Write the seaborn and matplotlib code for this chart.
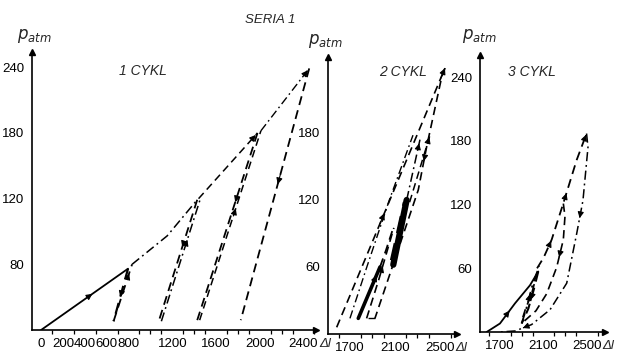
import numpy as np
import pandas as pd
import matplotlib
matplotlib.use("Agg")
import matplotlib.pyplot as plt
import seaborn as sns
from matplotlib.ticker import MultipleLocator

sns.set_style("white")
plt.rcParams["font.family"] = ["Liberation Sans Narrow", "Liberation Sans", "DejaVu Sans"]

# ---------------- data ----------------
# Panel 1 : "1 CYKL"
c1_load_x = [0, 795];                 c1_load_y = [0, 56]
c1_un1_x = [795, 663];                c1_un1_y = [56, 8]
c1_re1_x = [663, 832];                c1_re1_y = [8, 60]
c1_env1_x = [832, 1153, 1428];        c1_env1_y = [60, 86, 119]
c1_un2_x = [1428, 1076];              c1_un2_y = [119, 8]
c1_re2_x = [1100, 1460];              c1_re2_y = [8, 121]
c1_env2_x = [1440, 1979];             c1_env2_y = [120, 180]
c1_un3_x = [1979, 1428];              c1_un3_y = [180, 9]
c1_re3_x = [1450, 2010];              c1_re3_y = [9, 182]
c1_env3_x = [2010, 2452];             c1_env3_y = [182, 239]
c1_un4_x = [2452, 1826];              c1_un4_y = [239, 9]

# Panel 2 : "2 CYKL"
c2_load_x = [1774, 1967];             c2_load_y = [14, 60]
c2_mid_x = [1967, 2020, 2085];        c2_mid_y = [60, 75, 95]
c2_blob_x = [2085, 2204];             c2_blob_y = [62, 120]
c2_blob2_x = [2070, 2185];            c2_blob2_y = [66, 118]
c2_up1_x = [2204, 2322];              c2_up1_y = [120, 174]
c2_up2_x = [2230, 2411];              c2_up2_y = [118, 178]
c2_in_x = [1700, 1850, 2050, 2260];   c2_in_y = [14, 60, 120, 178]
c2_outer_x = [1582, 2544];            c2_outer_y = [6, 238]
c2_unl_x = [2544, 2515, 2382, 2307, 1922]; c2_unl_y = [238, 230, 168, 129, 14]
c2_bot_x = [1922, 1848];              c2_bot_y = [14, 14]
c2_rel_x = [1848, 1960, 2090];        c2_rel_y = [14, 50, 95]

# Panel 3 : "3 CYKL"
c3_load_x = [1578, 1700, 1838, 1975, 2051]; c3_load_y = [0, 8, 27, 44, 57]
c3_lp1_x = [2051, 2010, 1960, 1899];  c3_lp1_y = [57, 40, 22, 8]
c3_lp2_x = [1899, 1950, 2000, 2060];  c3_lp2_y = [8, 25, 45, 62]
c3_lp3_x = [1910, 1935, 1990, 2040];  c3_lp3_y = [14, 22, 36, 55]
c3_env_x = [2040, 2100, 2174, 2280, 2403, 2494]; c3_env_y = [60, 70, 87, 121, 162, 187]
c3_mid_x = [2281, 2296, 2281, 2220, 2128, 2030, 1920]; c3_mid_y = [121, 109, 87, 61, 36, 20, 10]
c3_out_x = [2494, 2507, 2461, 2404, 2312, 2159, 1990, 1840, 1700]
c3_out_y = [187, 174, 124, 93, 46, 21, 7, 1, 0]

p1_xticks = [0, 200, 400, 600, 800, 1200, 1600, 2000, 2400]
p1_yticks = [60, 120, 180, 240]
p1_ylabels = ["80", "120", "180", "240"]
p2_xticks = [1700, 2100, 2500]
p2_yticks = [60, 120, 180]
p3_xticks = [1700, 2100, 2500]
p3_yticks = [60, 120, 180, 240]

# ---------------- figure ----------------
W, H = 628, 355
fig = plt.figure(figsize=(W / 100, H / 100), dpi=100)


def fax(left, bottom_px, right, top_px):
    return fig.add_axes([left / W, 1 - bottom_px / H, (right - left) / W, (bottom_px - top_px) / H])


ax1 = fax(32, 330, 316, 52)
ax2 = fax(328, 334, 457, 57)
ax3 = fax(480, 332, 605, 55)
ax1.set_xlim(-83, 2514); ax1.set_ylim(0, 254)
ax2.set_xlim(1505, 2651); ax2.set_ylim(0, 248)
ax3.set_xlim(1517, 2663); ax3.set_ylim(0, 261)

DASH = (0, (5, 3))
DDOT = (0, (6, 2.5, 1.2, 2.5))
SOLID = "-"


def draw(ax, xs, ys, ls, lw=1.3):
    df = pd.DataFrame({"x": xs, "y": ys})
    sns.lineplot(data=df, x="x", y="y", ax=ax, sort=False, estimator=None,
                 color="black", linestyle=ls, linewidth=lw, legend=False)


def arrow(ax, xs, ys, seg, t=0.5):
    x0, y0, x1, y1 = xs[seg], ys[seg], xs[seg + 1], ys[seg + 1]
    px, py = x0 + t * (x1 - x0), y0 + t * (y1 - y0)
    dx, dy = (x1 - x0) * 0.04, (y1 - y0) * 0.04
    ax.annotate("", xy=(px + dx, py + dy), xytext=(px, py),
                arrowprops=dict(arrowstyle="-|>", color="black", lw=0.8,
                                mutation_scale=9, shrinkA=0, shrinkB=0))


paths = [
    (ax1, c1_load_x, c1_load_y, SOLID, 1.3), (ax1, c1_un1_x, c1_un1_y, DASH, 1.6),
    (ax1, c1_re1_x, c1_re1_y, DASH, 1.3), (ax1, c1_env1_x, c1_env1_y, DDOT, 1.1),
    (ax1, c1_un2_x, c1_un2_y, DASH, 1.3), (ax1, c1_re2_x, c1_re2_y, DDOT, 1.1),
    (ax1, c1_env2_x, c1_env2_y, DASH, 1.1), (ax1, c1_un3_x, c1_un3_y, DASH, 1.3),
    (ax1, c1_re3_x, c1_re3_y, DASH, 1.1), (ax1, c1_env3_x, c1_env3_y, DDOT, 1.0),
    (ax1, c1_un4_x, c1_un4_y, DASH, 1.3),
    (ax2, c2_load_x, c2_load_y, SOLID, 2.6), (ax2, c2_mid_x, c2_mid_y, DASH, 1.3),
    (ax2, c2_blob_x, c2_blob_y, SOLID, 4.5), (ax2, c2_blob2_x, c2_blob2_y, DASH, 2.5),
    (ax2, c2_up1_x, c2_up1_y, DDOT, 1.1), (ax2, c2_up2_x, c2_up2_y, DASH, 1.1),
    (ax2, c2_in_x, c2_in_y, DDOT, 1.0), (ax2, c2_outer_x, c2_outer_y, DASH, 1.2),
    (ax2, c2_unl_x, c2_unl_y, DASH, 1.2), (ax2, c2_bot_x, c2_bot_y, DASH, 1.0),
    (ax2, c2_rel_x, c2_rel_y, DASH, 1.2),
    (ax3, c3_load_x, c3_load_y, SOLID, 1.3), (ax3, c3_lp1_x, c3_lp1_y, DASH, 1.5),
    (ax3, c3_lp2_x, c3_lp2_y, DDOT, 1.3), (ax3, c3_lp3_x, c3_lp3_y, DASH, 1.2),
    (ax3, c3_env_x, c3_env_y, DASH, 1.3), (ax3, c3_mid_x, c3_mid_y, DASH, 1.2),
    (ax3, c3_out_x, c3_out_y, DDOT, 1.1),
]
for ax, xs, ys, ls, lw in paths:
    draw(ax, xs, ys, ls, lw)

arrows = [
    (ax1, c1_load_x, c1_load_y, 0, 0.55), (ax1, c1_un1_x, c1_un1_y, 0, 0.5),
    (ax1, c1_re1_x, c1_re1_y, 0, 0.8), (ax1, c1_un2_x, c1_un2_y, 0, 0.35),
    (ax1, c1_re2_x, c1_re2_y, 0, 0.62), (ax1, c1_env2_x, c1_env2_y, 0, 0.93),
    (ax1, c1_un3_x, c1_un3_y, 0, 0.33), (ax1, c1_re3_x, c1_re3_y, 0, 0.55),
    (ax1, c1_env3_x, c1_env3_y, 0, 0.93), (ax1, c1_un4_x, c1_un4_y, 0, 0.42),
    (ax2, c2_outer_x, c2_outer_y, 0, 0.4), (ax2, c2_outer_x, c2_outer_y, 0, 0.96),
    (ax2, c2_unl_x, c2_unl_y, 2, 0.3), (ax2, c2_up1_x, c2_up1_y, 0, 0.9),
    (ax2, c2_up2_x, c2_up2_y, 0, 0.93), (ax2, c2_rel_x, c2_rel_y, 1, 0.2),
    (ax2, c2_load_x, c2_load_y, 0, 0.8),
    (ax3, c3_load_x, c3_load_y, 1, 0.6), (ax3, c3_lp1_x, c3_lp1_y, 1, 0.5),
    (ax3, c3_lp2_x, c3_lp2_y, 1, 0.5), (ax3, c3_env_x, c3_env_y, 1, 0.9),
    (ax3, c3_env_x, c3_env_y, 3, 0.2), (ax3, c3_env_x, c3_env_y, 4, 0.92),
    (ax3, c3_mid_x, c3_mid_y, 2, 0.6), (ax3, c3_out_x, c3_out_y, 2, 0.5),
    (ax3, c3_out_x, c3_out_y, 6, 0.5),
]
for ax, xs, ys, seg, t in arrows:
    arrow(ax, xs, ys, seg, t)

TICKFONT = dict(fontsize=9.5)
for ax, xt, yt, ylab in [(ax1, p1_xticks, p1_yticks, p1_ylabels),
                         (ax2, p2_xticks, p2_yticks, [str(v) for v in p2_yticks]),
                         (ax3, p3_xticks, p3_yticks, [str(v) for v in p3_yticks])]:
    for s in ["top", "right"]:
        ax.spines[s].set_visible(False)
    for s in ["left", "bottom"]:
        ax.spines[s].set_linewidth(1.2)
        ax.spines[s].set_color("black")
    ax.set_xticks(xt)
    ax.set_xticklabels([str(v) for v in xt], **TICKFONT)
    ax.set_yticks(yt)
    ax.set_yticklabels(ylab, **TICKFONT)
    ax.xaxis.set_minor_locator(MultipleLocator(100))
    ax.tick_params(axis="both", which="major", direction="out", length=3.5, width=1,
                   colors="black", pad=2)
    ax.tick_params(axis="x", which="minor", direction="out", length=3, width=0.9,
                   colors="black", bottom=True)
    ax.set_xlabel(""); ax.set_ylabel("")
    ax.patch.set_alpha(0)
    ax.plot(1, 0, marker=">", color="black", markersize=5, transform=ax.transAxes, clip_on=False)
    ax.plot(0, 1, marker="^", color="black", markersize=4, transform=ax.transAxes, clip_on=False)
    ax.annotate("Δl", xy=(xt[-1], 0), xycoords="data", xytext=(11, -5.5),
                textcoords="offset points", ha="left", va="top", fontsize=9.5,
                fontstyle="italic")

# titles and axis names
fig.text(270 / W, 1 - 20 / H, "SERIA 1", ha="center", va="center", fontsize=9.5, fontstyle="italic")
fig.text(143 / W, 1 - 71 / H, "1 CYKL", ha="center", va="center", fontsize=10, fontstyle="italic")
fig.text(403 / W, 1 - 72 / H, "2 CYKL", ha="center", va="center", fontsize=10, fontstyle="italic")
fig.text(532 / W, 1 - 72 / H, "3 CYKL", ha="center", va="center", fontsize=10, fontstyle="italic")
for px, py in [(17, 36), (308, 41), (462, 36)]:
    fig.text(px / W, 1 - py / H, r"$p_{atm}$", ha="left", va="center", fontsize=12)

fig.savefig("out.png", dpi=100, facecolor="white")
